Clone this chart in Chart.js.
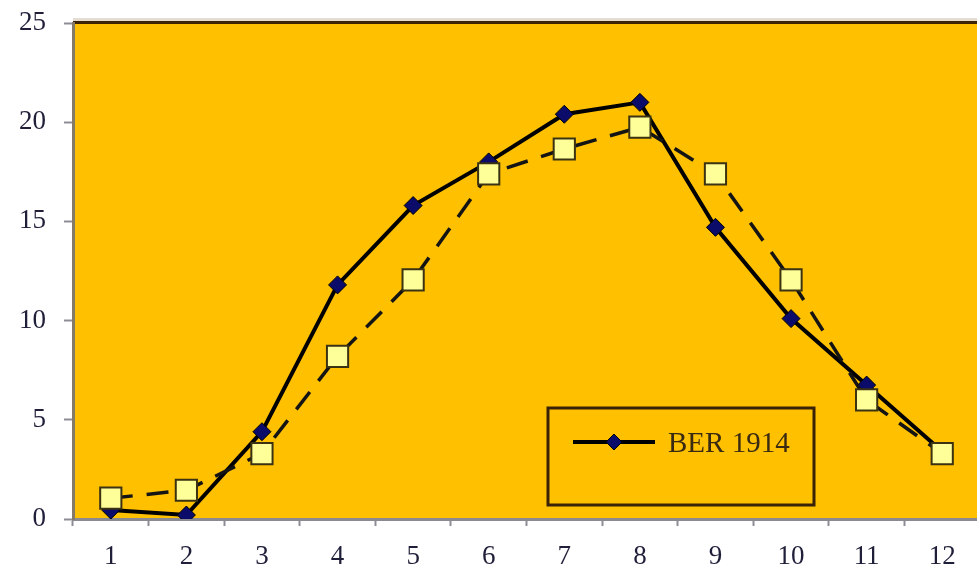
<!DOCTYPE html>
<html>
<head>
<meta charset="utf-8">
<script src="https://cdn.jsdelivr.net/npm/chart.js@4/dist/chart.umd.min.js"></script>
<style>
  html, body { margin: 0; padding: 0; background: #ffffff; overflow: hidden; }
  #wrap { width: 980px; height: 570px; }
</style>
</head>
<body>
<div id="wrap"><canvas id="c" width="980" height="570"></canvas></div>
<script>
// Monthly values, months 1..12
const months = ['1', '2', '3', '4', '5', '6', '7', '8', '9', '10', '11', '12'];
const ber1914 = [0.45, 0.2, 4.4, 11.8, 15.8, 18.0, 20.4, 21.0, 14.7, 10.1, 6.75, 3.4];
const comparison = [1.05, 1.45, 3.3, 8.2, 12.05, 17.4, 18.65, 19.75, 17.4, 12.05, 6.0, 3.3];
const yTicks = [0, 5, 10, 15, 20, 25];

const FONT = '"Liberation Serif", "Times New Roman", serif';
const TEXT = '#1f1f3a';

// Gold plot background and the dark top rule
const plotBackground = {
  id: 'plotBackground',
  beforeDraw(chart) {
    const { ctx, chartArea: a } = chart;
    ctx.save();
    ctx.fillStyle = '#FFC000';
    ctx.fillRect(a.left, a.top, a.right - a.left, a.bottom - a.top);
    ctx.fillStyle = '#e6ddd2';
    ctx.fillRect(a.left, a.top - 5, a.right - a.left, 3);
    ctx.fillStyle = '#3e2406';
    ctx.fillRect(a.left, a.top - 2, a.right - a.left, 3);
    ctx.restore();
  }
};

// Boxed legend with a single entry for the solid series
const boxedLegend = {
  id: 'boxedLegend',
  afterDatasetsDraw(chart) {
    const { ctx } = chart;
    const ds = chart.data.datasets[0];
    const bx = 548, by = 408, bw = 266, bh = 97;
    ctx.save();
    ctx.lineWidth = 3;
    ctx.strokeStyle = '#3a2208';
    ctx.strokeRect(bx, by, bw, bh);
    const ly = 442;
    ctx.strokeStyle = ds.borderColor;
    ctx.lineWidth = ds.borderWidth;
    ctx.beginPath();
    ctx.moveTo(573, ly);
    ctx.lineTo(655, ly);
    ctx.stroke();
    const r = 8;
    ctx.beginPath();
    ctx.moveTo(614, ly - r);
    ctx.lineTo(614 + r, ly);
    ctx.lineTo(614, ly + r);
    ctx.lineTo(614 - r, ly);
    ctx.closePath();
    ctx.fillStyle = ds.pointBackgroundColor;
    ctx.fill();
    ctx.lineWidth = 1;
    ctx.strokeStyle = '#000';
    ctx.stroke();
    ctx.fillStyle = '#3a2a12';
    ctx.font = '29px ' + FONT;
    ctx.textBaseline = 'middle';
    ctx.textAlign = 'left';
    ctx.fillText(ds.label, 668, ly + 2);
    ctx.restore();
  }
};

new Chart(document.getElementById('c'), {
  type: 'line',
  data: {
    labels: months,
    datasets: [
      {
        label: 'BER 1914',
        data: ber1914,
        order: 2,
        borderColor: '#000000',
        borderWidth: 4,
        tension: 0,
        pointStyle: 'rectRot',
        pointRadius: 9,
        pointBackgroundColor: '#0b0b6a',
        pointBorderColor: '#000000',
        pointBorderWidth: 1
      },
      {
        label: 'Vergleichsreihe',
        data: comparison,
        order: 1,
        borderColor: '#141414',
        borderWidth: 3.5,
        borderDash: [22, 14],
        tension: 0,
        pointStyle: 'rect',
        pointRadius: 15,
        pointBackgroundColor: '#FFFF99',
        pointBorderColor: '#3a3212',
        pointBorderWidth: 2
      }
    ]
  },
  options: {
    responsive: false,
    animation: false,
    layout: { autoPadding: false, padding: { top: 23, right: 0, bottom: 0, left: 0 } },
    plugins: {
      legend: { display: false },
      tooltip: { enabled: false }
    },
    scales: {
      x: {
        type: 'category',
        offset: true,
        grid: {
          offset: true,
          drawOnChartArea: false,
          drawTicks: true,
          tickLength: 7,
          tickWidth: 2,
          tickColor: '#8c8c96'
        },
        border: { color: '#8a8a90', width: 3 },
        ticks: {
          font: { family: FONT, size: 27 },
          color: TEXT,
          padding: 15,
          maxRotation: 0,
          autoSkip: false
        },
        afterFit(scale) {
          scale.height = 51;
          scale.paddingLeft = 0;
          scale.paddingRight = 0;
        }
      },
      y: {
        min: 0,
        max: 25,
        afterBuildTicks(scale) { scale.ticks = yTicks.map(v => ({ value: v })); },
        grid: {
          drawOnChartArea: false,
          drawTicks: true,
          tickLength: 9,
          tickWidth: 2,
          tickColor: '#8c8c96'
        },
        border: { color: '#857968', width: 3 },
        ticks: {
          font: { family: FONT, size: 27 },
          color: TEXT,
          padding: 18
        },
        afterFit(scale) {
          scale.width = 73;
          scale.paddingTop = 0;
          scale.paddingBottom = 0;
        }
      }
    }
  },
  plugins: [plotBackground, boxedLegend]
});
</script>
</body>
</html>
